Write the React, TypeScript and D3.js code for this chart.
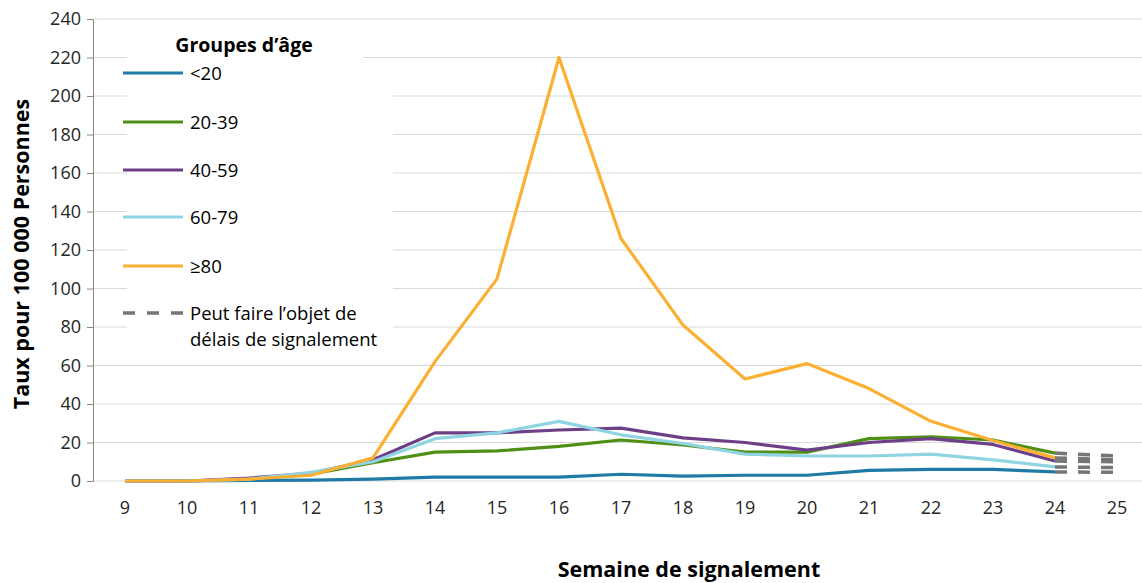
import React, { useEffect, useRef } from "react";
import * as d3 from "d3";

// weeks with reported data, plus week 25 used for the "may be delayed" dashes
const weeks = [9, 10, 11, 12, 13, 14, 15, 16, 17, 18, 19, 20, 21, 22, 23, 24];
const allWeeks = [...weeks, 25];

const under20 = [0, 0, 0.3, 0.5, 1, 2, 2, 2, 3.5, 2.5, 3, 3, 5.5, 6, 6, 4.7];
const age20to39 = [0, 0, 1, 3.5, 9.5, 15, 15.6, 18, 21.3, 18.7, 15, 15, 22, 23, 21.3, 14.5];
const age40to59 = [0, 0, 1.5, 4, 11, 25, 25, 26.5, 27.5, 22.4, 20, 16, 20, 22, 19, 10.4];
const age60to79 = [0, 0, 1, 4.5, 10, 22, 25, 31, 24, 19.5, 14, 13, 13, 14, 11, 7.3];
const age80plus = [0, 0, 1, 3, 12, 62, 105, 220, 126, 81, 53, 61, 48, 31, 21, 12];

// week 25 values (dashed, may be subject to reporting delays)
const week25 = [4.5, 13, 10, 7, 11];

const seriesNames = ["<20", "20-39", "40-59", "60-79", "≥80"];
const seriesColors = ["#1f7ba6", "#4f8f16", "#6c3f86", "#8fd4e3", "#fbb033"];
const yTickValues = [0, 20, 40, 60, 80, 100, 120, 140, 160, 180, 200, 220, 240];

const W = 1142;
const H = 583;
const FONT = "'Open Sans', 'Liberation Sans', sans-serif";

const App = () => {
  const svgRef = useRef<SVGSVGElement>(null);

  useEffect(() => {
    const svg = d3.select(svgRef.current);
    svg.selectAll("*").remove();

    const left = 93;
    const top = 19;
    const bottom = 481;
    const step = 62;

    const x = d3
      .scaleBand<number>()
      .domain(allWeeks)
      .range([left + 1, left + 1 + allWeeks.length * step]);
    const cx = (w: number) => (x(w) as number) + x.bandwidth() / 2;

    const y = d3.scaleLinear().domain([0, 240]).range([bottom, top]);

    // gridlines
    svg
      .append("g")
      .selectAll("line")
      .data(yTickValues)
      .join("line")
      .attr("x1", left)
      .attr("x2", W)
      .attr("y1", (d) => y(d))
      .attr("y2", (d) => y(d))
      .attr("stroke", "#d9d9d9")
      .attr("stroke-width", 1.2);

    // y axis
    const yAxis = svg
      .append("g")
      .attr("transform", `translate(${left},0)`)
      .call(d3.axisLeft(y).tickValues(yTickValues).tickSize(6).tickPadding(6));
    yAxis.select(".domain").attr("stroke", "#868686");
    yAxis.selectAll(".tick line").attr("stroke", "#868686");
    yAxis
      .selectAll("text")
      .attr("fill", "#262626")
      .style("font-family", FONT)
      .style("font-size", "18px");

    // x axis labels
    svg
      .append("g")
      .selectAll("text")
      .data(allWeeks)
      .join("text")
      .attr("x", (d) => cx(d))
      .attr("y", 514)
      .attr("text-anchor", "middle")
      .attr("fill", "#262626")
      .style("font-family", FONT)
      .style("font-size", "18px")
      .text((d) => d);

    // legend backgrounds
    svg.append("rect").attr("x", 127).attr("y", 28).attr("width", 236).attr("height", 36).attr("fill", "#fff");
    svg.append("rect").attr("x", 127).attr("y", 60).attr("width", 266).attr("height", 294).attr("fill", "#fff");

    const all = [under20, age20to39, age40to59, age60to79, age80plus];

    const line = d3
      .line<number>()
      .x((_, i) => cx(weeks[i]))
      .y((d) => y(d));

    all.forEach((vals, i) => {
      svg
        .append("path")
        .datum(vals)
        .attr("d", line)
        .attr("fill", "none")
        .attr("stroke", seriesColors[i])
        .attr("stroke-width", 3.2)
        .attr("stroke-linejoin", "round");
    });

    // dashed extension to week 25
    all.forEach((vals, i) => {
      svg
        .append("line")
        .attr("x1", cx(24))
        .attr("x2", cx(25))
        .attr("y1", y(vals[vals.length - 1]))
        .attr("y2", y(week25[i]))
        .attr("stroke", "#767676")
        .attr("stroke-width", 3.5)
        .attr("stroke-dasharray", "12,11");
    });

    // legend
    svg
      .append("text")
      .attr("x", 244)
      .attr("y", 52)
      .attr("text-anchor", "middle")
      .attr("fill", "#000")
      .style("font-family", FONT)
      .style("font-size", "19.5px")
      .style("font-weight", "700")
      .text("Groupes d’âge");

    const rowY = [73, 122, 170, 217, 266];
    seriesNames.forEach((name, i) => {
      svg
        .append("line")
        .attr("x1", 123)
        .attr("x2", 183)
        .attr("y1", rowY[i])
        .attr("y2", rowY[i])
        .attr("stroke", seriesColors[i])
        .attr("stroke-width", 3.2);
      svg
        .append("text")
        .attr("x", 190)
        .attr("y", rowY[i] + 7)
        .attr("fill", "#000")
        .style("font-family", FONT)
        .style("font-size", "18.5px")
        .text(name);
    });

    svg
      .append("line")
      .attr("x1", 123)
      .attr("x2", 183)
      .attr("y1", 313)
      .attr("y2", 313)
      .attr("stroke", "#767676")
      .attr("stroke-width", 3.5)
      .attr("stroke-dasharray", "12,12");
    const dl = svg
      .append("text")
      .attr("fill", "#000")
      .style("font-family", FONT)
      .style("font-size", "18.5px");
    dl.append("tspan").attr("x", 190).attr("y", 320).text("Peut faire l’objet de");
    dl.append("tspan").attr("x", 190).attr("y", 346).text("délais de signalement");

    // axis titles
    svg
      .append("text")
      .attr("transform", `translate(29,${254}) rotate(-90)`)
      .attr("text-anchor", "middle")
      .attr("fill", "#000")
      .style("font-family", FONT)
      .style("font-size", "21.5px")
      .style("font-weight", "700")
      .text("Taux pour 100 000 Personnes");

    svg
      .append("text")
      .attr("x", 689)
      .attr("y", 577)
      .attr("text-anchor", "middle")
      .attr("fill", "#000")
      .style("font-family", FONT)
      .style("font-size", "21.5px")
      .style("font-weight", "700")
      .text("Semaine de signalement");
  }, []);

  return (
    <svg
      ref={svgRef}
      width={W}
      height={H}
      style={{ position: "absolute", left: 0, top: 0, background: "#fff" }}
    ></svg>
  );
};

export default App;
